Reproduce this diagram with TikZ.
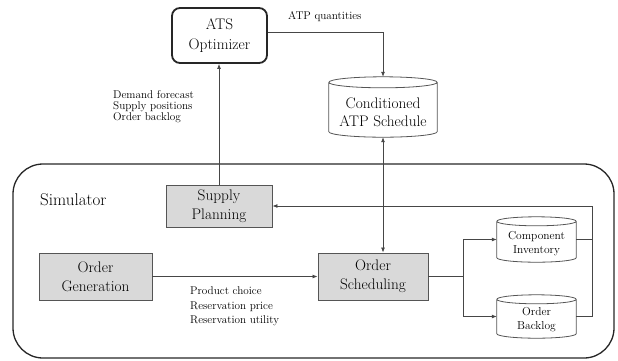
\documentclass[tikz,border=0pt]{standalone}
\usetikzlibrary{arrows.meta,calc}
\definecolor{boxgray}{RGB}{217,217,217}
\definecolor{edgegray}{RGB}{85,85,85}
\definecolor{linegray}{RGB}{70,70,70}
\tikzset{
  graybox/.style={draw=edgegray, fill=boxgray, line width=0.9pt, inner sep=0pt,
    align=center, font=\fontsize{15.3}{19}\selectfont},
  cylbox/.style={inner sep=0pt, draw=none},
  cylline/.style={draw=edgegray, line width=0.8pt},
  bigcyltext/.style={align=center, inner sep=0pt, font=\fontsize{15.3}{18}\selectfont},
  smallcyltext/.style={align=center, inner sep=0pt, font=\fontsize{11.5}{14}\selectfont},
  conn/.style={draw=linegray, line width=0.8pt},
  arr/.style={conn, -{Latex[length=5pt,width=4pt]}},
  lbl/.style={font=\fontsize{11.2}{14.5}\selectfont, align=left, inner sep=0pt, anchor=north west},
}
\newcommand\cylout[2]{%
  \draw[cylline] let \p1=(#1.north west), \p2=(#1.south east), \n1={(\x2-\x1)/2} in
    (\x1,\y1-#2) -- (\x1,\y2+#2)
    arc[start angle=180,end angle=360,x radius=\n1*1pt,y radius=#2]
    -- (\x2,\y1-#2)
    arc[start angle=0,end angle=180,x radius=\n1*1pt,y radius=#2]
    (\x1,\y1-#2) arc[start angle=180,end angle=360,x radius=\n1*1pt,y radius=#2];
}
\begin{document}
\begin{tikzpicture}[x=1pt,y=-1pt]
\useasboundingbox (0,0) rectangle (618,360);

% Simulator frame
\draw[line width=1.3pt, draw=black!85, rounded corners=30pt] (13,164) rectangle (614,358);
\node[anchor=west, inner sep=0pt, font=\fontsize{17}{20}\selectfont] (simlabel) at (40,200) {Simulator};

% ATS Optimizer
\node[draw=black!85, line width=1.8pt, rounded corners=8pt, minimum width=95pt, minimum height=55pt,
  fill=white, align=center, inner sep=0pt, font=\fontsize{15.3}{20}\selectfont] (ats) at (219.5,35.5) {ATS\\Optimizer};

% Conditioned ATP Schedule
\node[cylbox, minimum width=108pt, minimum height=60pt] (atp) at (383,107) {};
\cylout{atp}{5.5pt}
\node[bigcyltext] (atptext) at ($(atp.center)+(0,5)$) {Conditioned\\ATP Schedule};

% Gray boxes
\node[graybox, minimum width=106pt, minimum height=42pt] (sp) at (219,206) {Supply\\Planning};
\node[graybox, minimum width=113pt, minimum height=47pt] (og) at (95.5,276.5) {Order\\Generation};
\node[graybox, minimum width=110pt, minimum height=47pt] (os) at (373,276.5) {Order\\Scheduling};

% Component Inventory / Order Backlog
\node[cylbox, minimum width=79pt, minimum height=45pt] (ci) at (536.5,239.5) {};
\cylout{ci}{4.5pt}
\node[smallcyltext] (citext) at ($(ci.center)+(0,4)$) {Component\\Inventory};
\node[cylbox, minimum width=79pt, minimum height=43pt] (ob) at (536.5,316.5) {};
\cylout{ob}{4.5pt}
\node[smallcyltext] (obtext) at ($(ob.center)+(0,3.5)$) {Order\\Backlog};

% Labels
\node[anchor=west, inner sep=0pt, font=\fontsize{11.2}{14}\selectfont] (atpq) at (288,17) {ATP quantities};
\node[lbl, font=\fontsize{11.2}{11}\selectfont] (dem) at (113,90) {Demand forecast\\Supply positions\\Order backlog};
\node[lbl] (prod) at (190,287) {Product choice\\Reservation price\\Reservation utility};

% Connectors
\draw[arr] ($(ats.east)+(0,-3.5)$) -| (atp.north);
\draw[arr] (sp.north) -- (sp.north |- ats.south);
\draw[conn, {Latex[length=5pt,width=4pt]}-{Latex[length=5pt,width=4pt]}] (atp.south) -- (atp.south |- os.north);
\draw[arr] (og.east) -- (os.west);
\coordinate (split) at (463,276.5);
\draw[conn] (os.east) -- (split);
\draw[arr] (split) |- (ci.west);
\draw[arr] (split) |- (ob.west);
\coordinate (fb) at (592,206);
\draw[conn] (ci.east) -- (ci.east -| fb);
\draw[arr] (ob.east) -| (fb) -- (fb -| sp.east);
\end{tikzpicture}
\end{document}
